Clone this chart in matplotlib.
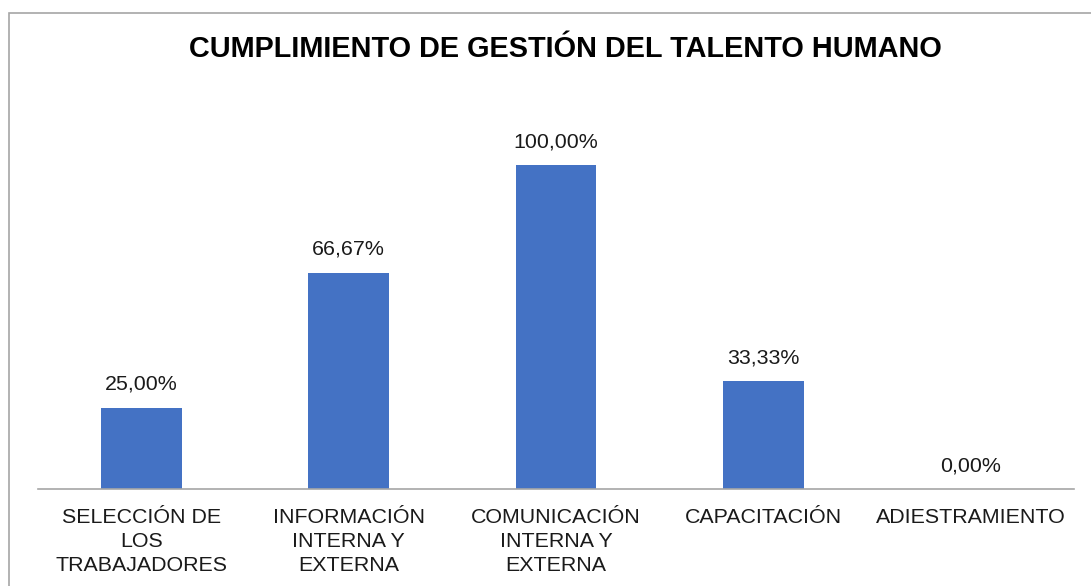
import numpy as np
from matplotlib import pyplot as plt
from matplotlib.patches import Rectangle

categorias = ['SELECCIÓN DE\nLOS\nTRABAJADORES', 'INFORMACIÓN\nINTERNA Y\nEXTERNA',
              'COMUNICACIÓN\nINTERNA Y\nEXTERNA', 'CAPACITACIÓN', 'ADIESTRAMIENTO']
valores = [25.00, 66.67, 100.00, 33.33, 0.00]
etiquetas = ['25,00%', '66,67%', '100,00%', '33,33%', '0,00%']
titulo = 'CUMPLIMIENTO DE GESTIÓN DEL TALENTO HUMANO'

plt.rcParams['font.family'] = ['Liberation Sans', 'DejaVu Sans']

W, H = 1091, 586
fig = plt.figure(figsize=(W / 100, H / 100), dpi=100)

# borde gris del grafico
fig.patches.append(Rectangle((9 / W, -0.1), 1.2, 1 - 13 / H + 0.1, transform=fig.transFigure,
                             fill=False, edgecolor='#A6A6A6', linewidth=1.2))

y_base = 489
px_por_100 = 324
top = y_base - 1.2 * px_por_100
ax = fig.add_axes([38 / W, 1 - y_base / H, (1074 - 38) / W, (y_base - top) / H])

x = np.arange(len(categorias))
ax.bar(x, valores, width=0.39, color='#4472C4')
ax.set_xlim(-0.5, len(categorias) - 0.5)
ax.set_ylim(0, 120)

for xi, v, t in zip(x, valores, etiquetas):
    ax.annotate(t, (xi, v), xytext=(0, 14), textcoords='offset pixels',
                ha='center', va='bottom', fontsize=15.4, color='#1a1a1a')

ax.set_xticks(x)
ax.set_xticklabels(categorias, fontsize=15.4, color='#1a1a1a', linespacing=1.32)
ax.tick_params(axis='x', length=0, pad=14)
ax.set_yticks([])
for s in ['top', 'right', 'left']:
    ax.spines[s].set_visible(False)
ax.spines['bottom'].set_color('#A6A6A6')
ax.spines['bottom'].set_linewidth(1.2)

fig.text(565 / W, 1 - 49 / H, titulo, ha='center', va='center',
         fontsize=20.8, fontweight='bold', color='black')

fig.savefig('out.png', dpi=100)
